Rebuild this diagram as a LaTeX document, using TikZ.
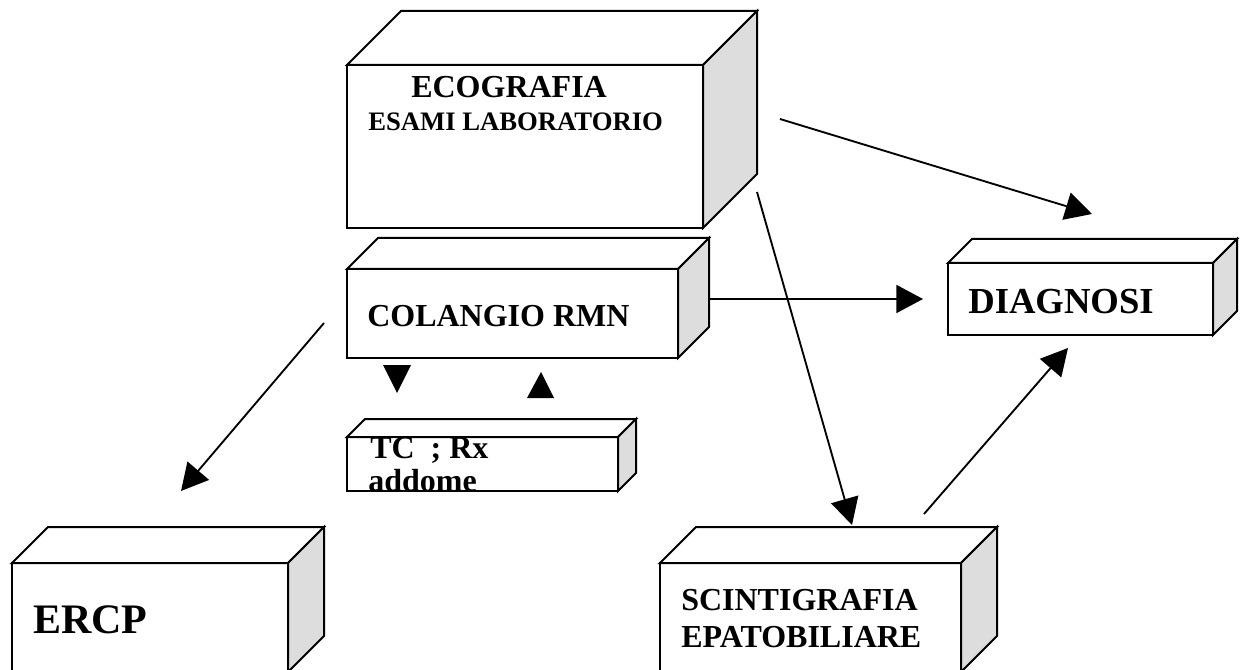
\documentclass[tikz,border=0pt]{standalone}
\usepackage{fontspec}
\setmainfont{Liberation Serif}
\usetikzlibrary{arrows.meta}
\definecolor{sidegray}{HTML}{DDDDDD}
\newcommand\boxthreed[6]{%
  \draw[boxline, fill=white] (#2,#3) rectangle (#4,#5);
  \draw[boxline, fill=white] (#2,#3) -- ({#2+#6},{#3-#6}) -- ({#4+#6},{#3-#6}) -- (#4,#3) -- cycle;
  \draw[boxline, fill=sidegray] (#4,#3) -- ({#4+#6},{#3-#6}) -- ({#4+#6},{#5-#6}) -- (#4,#5) -- cycle;
  \coordinate (#1) at ({(#2+#4)/2},{(#3+#5)/2});
}
\begin{document}
\begin{tikzpicture}[x=0.75pt,y=-0.75pt,
  boxline/.style={line width=1.5pt, line join=miter},
  conn/.style={line width=1.4pt, -{Triangle[length=20pt,width=21pt]}},
  lbl/.style={anchor=base west, inner sep=0pt, font=\bfseries\fontsize{24}{26}\selectfont},
  tri/.style={fill=black}]
\path[fill=white, use as bounding box] (0,0) rectangle (1242,670);
% boxes
\boxthreed{eco}{347}{65}{703}{228}{54}
\boxthreed{crmn}{347}{269}{678}{358}{31}
\boxthreed{tc}{347}{437}{618}{491}{18}
\boxthreed{ercp}{12}{563}{288}{672}{36}
\boxthreed{scint}{660}{563}{961}{672}{36}
\boxthreed{diag}{948}{263}{1213}{335}{24}
% labels
\node[lbl] (tEco) at (411,98) {ECOGRAFIA};
\node[lbl, font=\bfseries\fontsize{20}{22}\selectfont] (tEsami) at (368,131) {ESAMI LABORATORIO};
\node[lbl] (tCrmn) at (367,326) {COLANGIO RMN};
\node[lbl] (tTc) at (370,458) {TC\ \ ; Rx};
\node[lbl] (tAdd) at (368,491) {addome};
\node[lbl, font=\bfseries\fontsize{31.5}{34}\selectfont] (tErcp) at (33,633) {ERCP};
\node[lbl] (tScint) at (681,610) {SCINTIGRAFIA};
\node[lbl] (tEpato) at (681,647) {EPATOBILIARE};
\node[lbl, font=\bfseries\fontsize{27.5}{30}\selectfont] (tDiag) at (968,313) {DIAGNOSI};
% connector end points
\coordinate (a1s) at (780,119); \coordinate (a1e) at (1092,214);
\coordinate (a2s) at (710,299); \coordinate (a2e) at (923,299);
\coordinate (a3s) at (757,192); \coordinate (a3e) at (852,525);
\coordinate (a4s) at (924,514); \coordinate (a4e) at (1068,348);
\coordinate (a5s) at (324,323); \coordinate (a5e) at (181,491);
\draw[conn] (a1s) -- (a1e);
\draw[conn] (a2s) -- (a2e);
\draw[conn] (a3s) -- (a3e);
\draw[conn] (a4s) -- (a4e);
\draw[conn] (a5s) -- (a5e);
% arrowheads between COLANGIO RMN and TC
\fill[tri] (383,365) -- (411,365) -- (397,393) -- cycle;
\fill[tri] (527,398) -- (554,398) -- (541,372) -- cycle;
\end{tikzpicture}
\end{document}
